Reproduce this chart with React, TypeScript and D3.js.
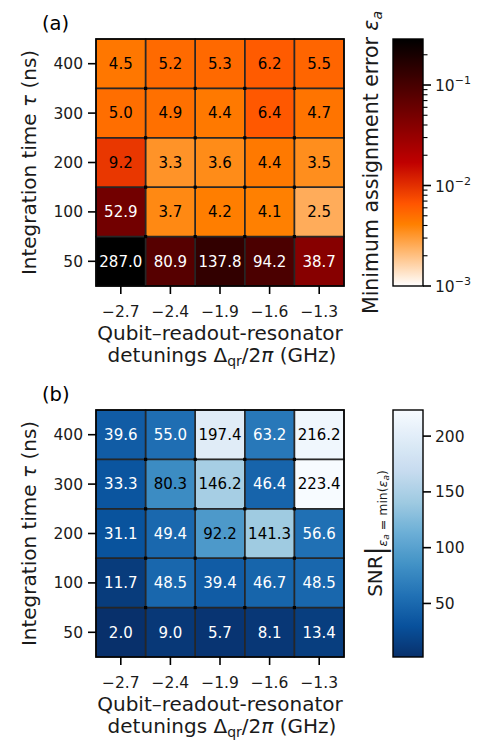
import React from "react";
import * as d3 from "d3";

const detunings = ["−2.7", "−2.4", "−1.9", "−1.6", "−1.3"];
const tauLabels = ["400", "300", "200", "100", "50"];

// Minimum assignment error (×10^-3), rows top (400 ns) to bottom (50 ns)
const errRow400 = [4.5, 5.2, 5.3, 6.2, 5.5];
const errRow300 = [5.0, 4.9, 4.4, 6.4, 4.7];
const errRow200 = [9.2, 3.3, 3.6, 4.4, 3.5];
const errRow100 = [52.9, 3.7, 4.2, 4.1, 2.5];
const errRow50 = [287.0, 80.9, 137.8, 94.2, 38.7];

// SNR at minimum error
const snrRow400 = [39.6, 55.0, 197.4, 63.2, 216.2];
const snrRow300 = [33.3, 80.3, 146.2, 46.4, 223.4];
const snrRow200 = [31.1, 49.4, 92.2, 141.3, 56.6];
const snrRow100 = [11.7, 48.5, 39.4, 46.7, 48.5];
const snrRow50 = [2.0, 9.0, 5.7, 8.1, 13.4];

const errTicks = [1e-3, 1e-2, 1e-1];
const errTickExp = ["−3", "−2", "−1"];
const snrTicks = [50, 100, 150, 200];

const errRows = [errRow400, errRow300, errRow200, errRow100, errRow50];
const snrRows = [snrRow400, snrRow300, snrRow200, snrRow100, snrRow50];

const FONT = "DejaVu Sans, Verdana, sans-serif";

// matplotlib gist_heat_r
function gistHeatR(t: number) {
  const x = 1 - Math.max(0, Math.min(1, t));
  const r = Math.min(1, 1.5 * x);
  const g = Math.max(0, Math.min(1, 2 * x - 1));
  const b = Math.max(0, Math.min(1, 4 * x - 3));
  return d3.rgb(r * 255, g * 255, b * 255).formatHex();
}
const bluesStops = ["#f7fbff", "#deebf7", "#c6dbef", "#9ecae1", "#6baed6", "#4292c6", "#2171b5", "#08519c", "#08306b"];
const bluesInterp = d3.piecewise(d3.interpolateRgb, bluesStops);
function bluesR(t: number) {
  return d3.rgb(bluesInterp(1 - Math.max(0, Math.min(1, t)))).formatHex();
}

const X0 = 96, X1 = 344;
const CB0 = 393, CB1 = 423;

type PanelProps = {
  id: string;
  top: number;
  bottom: number;
  letter: string;
  rows: number[][];
  fmt: (v: number) => string;
  color: (v: number) => string;
  textWhite: (v: number) => boolean;
  colorbar: React.ReactNode;
};

function Panel(p: PanelProps) {
  const x = d3.scaleBand<string>().domain(detunings).range([X0, X1]);
  const y = d3.scaleBand<string>().domain(tauLabels).range([p.top, p.bottom]);
  const bw = x.bandwidth();
  const bh = y.bandwidth();
  const dots: { cx: number; cy: number }[] = [];
  for (let i = 1; i < detunings.length; i++) {
    for (let j = 1; j < tauLabels.length; j++) {
      dots.push({ cx: x(detunings[i])!, cy: y(tauLabels[j])! });
    }
  }
  return (
    <g>
      <text x={42} y={p.top - 9} fontSize={19.5} fontFamily={FONT} fill="#000">
        {p.letter}
      </text>
      {p.rows.map((row, j) =>
        row.map((v, i) => (
          <rect
            key={`c${i}-${j}`}
            x={x(detunings[i])!}
            y={y(tauLabels[j])!}
            width={bw}
            height={bh}
            fill={p.color(v)}
          />
        ))
      )}
      {p.rows.map((row, j) =>
        row.map((v, i) => (
          <rect
            key={`e${i}-${j}`}
            x={x(detunings[i])!}
            y={y(tauLabels[j])!}
            width={bw}
            height={bh}
            fill="none"
            stroke="#262626"
            strokeOpacity={0.88}
            strokeWidth={1.5}
          />
        ))
      )}
      {dots.map((d, k) => (
        <rect key={`d${k}`} x={d.cx - 1.6} y={d.cy - 1.6} width={3.2} height={3.2} fill="#000" />
      ))}
      {p.rows.map((row, j) =>
        row.map((v, i) => (
          <text
            key={`t${i}-${j}`}
            x={x(detunings[i])! + bw / 2}
            y={y(tauLabels[j])! + bh / 2 + 5.3}
            textAnchor="middle"
            fontSize={15}
            fontFamily={FONT}
            fill={p.textWhite(v) ? "#fff" : "#000"}
          >
            {p.fmt(v)}
          </text>
        ))
      )}
      <rect x={X0} y={p.top} width={X1 - X0} height={p.bottom - p.top} fill="none" stroke="#000" strokeWidth={1.6} />
      {/* y ticks */}
      {tauLabels.map((t) => (
        <g key={`yt${t}`}>
          <line x1={X0 - 8} x2={X0} y1={y(t)! + bh / 2} y2={y(t)! + bh / 2} stroke="#000" strokeWidth={1.6} />
          <text x={X0 - 13} y={y(t)! + bh / 2 + 5.4} textAnchor="end" fontSize={15.5} fontFamily={FONT} fill="#1a1a1a">
            {t}
          </text>
        </g>
      ))}
      {/* x ticks */}
      {detunings.map((d) => (
        <g key={`xt${d}`}>
          <line x1={x(d)! + bw / 2} x2={x(d)! + bw / 2} y1={p.bottom} y2={p.bottom + 8} stroke="#000" strokeWidth={1.6} />
          <text x={x(d)! + bw / 2} y={p.bottom + 31} textAnchor="middle" fontSize={15.5} fontFamily={FONT} fill="#1a1a1a">
            {d}
          </text>
        </g>
      ))}
      <text x={(X0 + X1) / 2} y={p.bottom + 54} textAnchor="middle" fontSize={20} fontFamily={FONT} fill="#1a1a1a">
        Qubit–readout-resonator
      </text>
      <text x={(X0 + X1) / 2 + 2} y={p.bottom + 76} textAnchor="middle" fontSize={20} fontFamily={FONT} fill="#1a1a1a">
        detunings Δ<tspan fontSize={14} dy={4}>qr</tspan>
        <tspan dy={-4}>/2</tspan>
        <tspan fontStyle="italic">π</tspan> (GHz)
      </text>
      <text
        transform={`translate(36,${(p.top + p.bottom) / 2}) rotate(-90)`}
        textAnchor="middle"
        fontSize={20}
        fontFamily={FONT}
        fill="#1a1a1a"
      >
        Integration time <tspan fontStyle="italic">τ</tspan> (ns)
      </text>
      {p.colorbar}
    </g>
  );
}

function ErrColorbar({ top, bottom }: { top: number; bottom: number }) {
  const vmin = 1e-3;
  const vmax = 0.287;
  const s = d3.scaleLog().domain([vmin, vmax]).range([bottom, top]);
  const n = 60;
  const stops = d3.range(n + 1).map((k) => k / n);
  const minor: number[] = [];
  for (const dec of [1e-3, 1e-2, 1e-1]) {
    for (let m = 2; m <= 9; m++) {
      const v = m * dec;
      if (v <= vmax) minor.push(v);
    }
  }
  return (
    <g>
      <defs>
        <linearGradient id="errgrad" x1="0" y1="1" x2="0" y2="0">
          {stops.map((t) => (
            <stop key={t} offset={t} stopColor={gistHeatR(t)} />
          ))}
        </linearGradient>
      </defs>
      <rect x={CB0} y={top} width={CB1 - CB0} height={bottom - top} fill="url(#errgrad)" stroke="#000" strokeWidth={1.4} />
      {minor.map((v) => (
        <line key={`m${v}`} x1={CB1} x2={CB1 + 4.5} y1={s(v)} y2={s(v)} stroke="#000" strokeWidth={1.1} />
      ))}
      {errTicks.map((v, k) => (
        <g key={`M${v}`}>
          <line x1={CB1} x2={CB1 + 8} y1={s(v)} y2={s(v)} stroke="#000" strokeWidth={1.6} />
          <text x={CB1 + 12} y={s(v) + 6} fontSize={15.5} fontFamily={FONT} fill="#1a1a1a">
            10<tspan fontSize={11} dy={-7}>{errTickExp[k]}</tspan>
          </text>
        </g>
      ))}
      <text
        transform={`translate(378,${(top + bottom) / 2}) rotate(-90)`}
        textAnchor="middle"
        fontSize={20.5}
        fontFamily={FONT}
        fill="#1a1a1a"
      >
        Minimum assignment error <tspan fontStyle="italic">ε</tspan>
        <tspan fontStyle="italic" fontSize={14} dy={4}>a</tspan>
      </text>
    </g>
  );
}

function SnrColorbar({ top, bottom }: { top: number; bottom: number }) {
  const vmin = 2.0;
  const vmax = 223.4;
  const s = d3.scaleLinear().domain([vmin, vmax]).range([bottom, top]);
  const n = 40;
  const stops = d3.range(n + 1).map((k) => k / n);
  return (
    <g>
      <defs>
        <linearGradient id="snrgrad" x1="0" y1="1" x2="0" y2="0">
          {stops.map((t) => (
            <stop key={t} offset={t} stopColor={bluesR(t)} />
          ))}
        </linearGradient>
      </defs>
      <rect x={CB0} y={top} width={CB1 - CB0} height={bottom - top} fill="url(#snrgrad)" stroke="#000" strokeWidth={1.4} />
      {snrTicks.map((v) => (
        <g key={`S${v}`}>
          <line x1={CB1} x2={CB1 + 8} y1={s(v)} y2={s(v)} stroke="#000" strokeWidth={1.6} />
          <text x={CB1 + 12} y={s(v) + 5.5} fontSize={15.5} fontFamily={FONT} fill="#1a1a1a">
            {v}
          </text>
        </g>
      ))}
      <text
        transform={`translate(382,${(top + bottom) / 2}) rotate(-90)`}
        textAnchor="middle"
        fontSize={20}
        fontFamily={FONT}
        fill="#1a1a1a"
      >
        SNR
        <tspan fontSize={26} dy={2}>|</tspan>
        <tspan fontSize={12.5} dy={3}>
          <tspan fontStyle="italic">ε</tspan>
          <tspan fontStyle="italic" fontSize={9} dy={2}>a</tspan>
          <tspan dy={-2}> = min(</tspan>
          <tspan fontStyle="italic">ε</tspan>
          <tspan fontStyle="italic" fontSize={9} dy={2}>a</tspan>
          <tspan dy={-2}>)</tspan>
        </tspan>
      </text>
    </g>
  );
}

export default function App() {
  const errScale = d3.scaleLog().domain([1e-3, 0.287]).range([0, 1]);
  const snrScale = d3.scaleLinear().domain([2.0, 223.4]).range([0, 1]);
  const topA = 39, botA = 286;
  const topB = 410, botB = 657;
  return (
    <svg
      width={491}
      height={747}
      viewBox="0 0 491 747"
      style={{ position: "absolute", left: 0, top: 0, background: "#fff" }}
    >
      <rect width={491} height={747} fill="#fff" />
      <Panel
        id="a"
        top={topA}
        bottom={botA}
        letter="(a)"
        rows={errRows}
        fmt={(v) => v.toFixed(1)}
        color={(v) => gistHeatR(errScale(v * 1e-3))}
        textWhite={(v) => v > 20}
        colorbar={<ErrColorbar top={topA} bottom={botA} />}
      />
      <Panel
        id="b"
        top={topB}
        bottom={botB}
        letter="(b)"
        rows={snrRows}
        fmt={(v) => v.toFixed(1)}
        color={(v) => bluesR(snrScale(v))}
        textWhite={(v) => v < 70}
        colorbar={<SnrColorbar top={topB} bottom={botB} />}
      />
    </svg>
  );
}
